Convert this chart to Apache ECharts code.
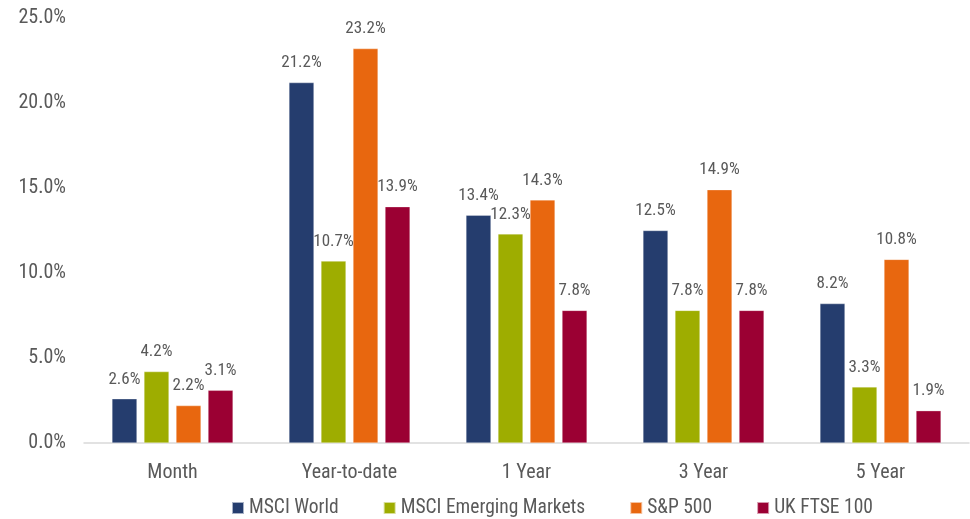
<!DOCTYPE html>
<html><head><meta charset="utf-8">
<script src="https://cdn.jsdelivr.net/npm/echarts@6/dist/echarts.min.js"></script>
<style>html,body{margin:0;padding:0;background:#fff}#c{width:970px;height:519px}</style>
</head><body><div id="c"></div>
<script>
const categories = ['Month', 'Year-to-date', '1 Year', '3 Year', '5 Year'];
const msciWorld = [2.6, 21.2, 13.4, 12.5, 8.2];
const msciEM = [4.2, 10.7, 12.3, 7.8, 3.3];
const sp500 = [2.2, 23.2, 14.3, 14.9, 10.8];
const ftse100 = [3.1, 13.9, 7.8, 7.8, 1.9];
const seriesNames = ['MSCI World', 'MSCI Emerging Markets', 'S&P 500', 'UK FTSE 100'];
const yTicks = [0, 5, 10, 15, 20, 25];
const colors = ['#253D6E', '#9EAD00', '#E8670F', '#9B0033'];
const FONT = '"Roboto Condensed", Roboto, sans-serif';
const chart = echarts.init(document.getElementById('c'));
const data = [msciWorld, msciEM, sp500, ftse100];
chart.setOption({
  animation: false,
  textStyle: {fontFamily: FONT},
  grid: {left: 84, right: 1, top: 18, bottom: 76},
  legend: {
    top: 493, left: 226, itemGap: 44, itemWidth: 12, itemHeight: 12, icon: 'rect',
    textStyle: {fontFamily: FONT, fontSize: 19.5, color: '#595959'},
    data: seriesNames
  },
  xAxis: {
    type: 'category', data: categories,
    axisLine: {lineStyle: {color: '#d9d9d9', width: 1.5}},
    axisTick: {show: false},
    axisLabel: {fontFamily: FONT, fontSize: 20, color: '#595959', margin: 20}
  },
  yAxis: {
    type: 'value', min: yTicks[0], max: yTicks[yTicks.length - 1], interval: yTicks[1] - yTicks[0],
    splitLine: {show: false},
    axisLabel: {fontFamily: FONT, fontSize: 20, color: '#595959', margin: 18,
      formatter: v => v.toFixed(1) + '%'}
  },
  series: data.map((d, i) => ({
    name: seriesNames[i], type: 'bar', data: d,
    barGap: '28%', barCategoryGap: '31.6%',
    itemStyle: {color: colors[i], borderColor: 'rgba(255,255,255,0.6)', borderWidth: 0.5},
    label: {show: true, position: 'top', distance: 11, fontFamily: FONT, fontSize: 17, color: '#595959',
      formatter: p => p.value.toFixed(1) + '%'}
  }))
});
</script></body></html>
